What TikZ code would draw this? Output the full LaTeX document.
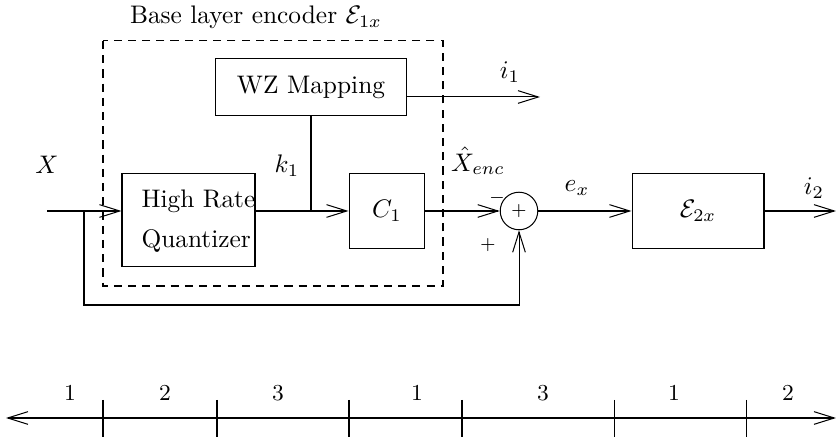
\documentclass[tikz,border=0pt]{standalone}
\usetikzlibrary{arrows.meta}
\begin{document}
\begin{tikzpicture}[x=0.394pt,y=-0.394pt,
  line width=0.4pt,
  tip/.style={-{Straight Barb[length=8pt,width=5pt,line width=0.4pt]}},
  bothtip/.style={{Straight Barb[length=8pt,width=5pt,line width=0.4pt]}-{Straight Barb[length=8pt,width=5pt,line width=0.4pt]}},
  blk/.style={draw,inner sep=0pt},
  lbl/.style={inner sep=0pt}]
\useasboundingbox (0,0) rectangle (836,441);
% dashed encoder frame
\draw[dashed,dash pattern=on 3.2pt off 2.4pt] (103,41) rectangle (443,286);
\node[lbl] (title) at (256,17) {Base layer encoder $\mathcal{E}_{1x}$};
% blocks
\node[blk,minimum width=74.9pt,minimum height=22.1pt] (wz) at (311,87) {WZ Mapping};
\node[blk,minimum width=52.4pt,minimum height=37pt] (hrq) at (188.5,220) {};
\node[lbl,anchor=west,align=left] (hrqtxt) at (141,221) {High Rate\\[3.5pt]Quantizer};
\node[blk,minimum width=29.9pt,minimum height=29.6pt] (c1) at (387,211) {$C_1$};
\node[blk,minimum width=52pt,minimum height=29.6pt] (e2) at (698,211) {$\mathcal{E}_{2x}$};
\node[draw,circle,minimum size=14.8pt,inner sep=0pt] (sum) at (519,211) {\scriptsize$+$};
% coordinates
\coordinate (xin) at (47,211);
\coordinate (br) at (84,211);
\coordinate (fb) at (519,305);
\coordinate (i1end) at (540,97);
\coordinate (i2end) at (836,211);
% connectors
\draw[tip] (xin) -- (xin -| hrq.west);
\draw[tip] (hrq.east |- c1) -- (c1.west);
\draw (wz.south) -- (wz.south |- c1);
\draw[tip] (wz.east |- i1end) -- (i1end);
\draw[tip] (c1.east) -- (sum.west);
\draw[tip] (sum.east) -- (e2.west);
\draw[tip] (e2.east) -- (i2end);
\draw[tip] (br) |- (fb) -- (sum.south);
% labels
\node[lbl] (lx) at (47,165) {$X$};
\node[lbl] (lk) at (287,166) {$k_1$};
\node[lbl] (li1) at (510,72) {$i_1$};
\node[lbl] (lxh) at (478,161) {$\hat{X}_{enc}$};
\node[lbl] (lmin) at (497,198) {\scriptsize$-$};
\node[lbl] (lplus) at (488,245) {\scriptsize$+$};
\node[lbl] (lex) at (577,188) {$e_x$};
\node[lbl] (li2) at (814,188) {$i_2$};
% number line
\coordinate (nl) at (6,418);
\coordinate (nr) at (836,418);
\draw[bothtip] (nl) -- (nr);
\foreach \t in {103,217,349,462,614,746}{
  \draw (\t,400) -- (\t,437);
}
\foreach \p/\v in {70/1,165/2,278/3,417/1,543/3,674/1,788/2}{
  \node[lbl,font=\small] at (\p,393) {\v};
}
\end{tikzpicture}
\end{document}
